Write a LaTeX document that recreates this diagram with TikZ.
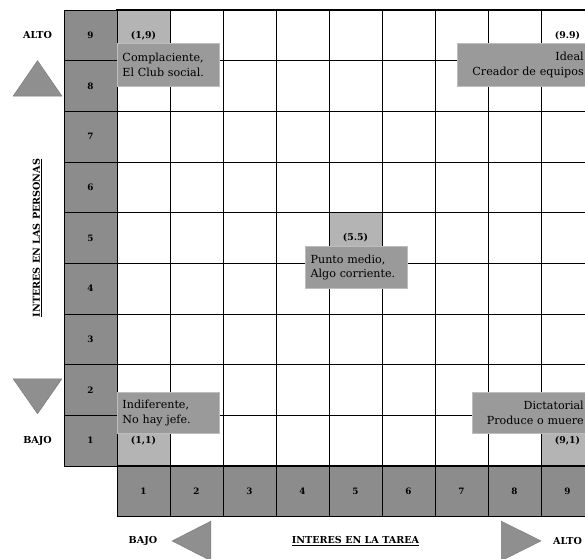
\documentclass[tikz,border=0pt]{standalone}
\usepackage{fontspec}
\setmainfont{DejaVu Serif}
\definecolor{axgray}{HTML}{8C8C8C}
\definecolor{higray}{HTML}{B4B4B4}
\definecolor{boxgray}{HTML}{9A9A9A}
\definecolor{boxedge}{HTML}{BDBDBD}
\definecolor{trigray}{HTML}{8F8F8F}
\begin{document}
\begin{tikzpicture}[
  x=1.59cm, y=1.52cm,
  axcell/.style={draw=black, fill=axgray, line width=0.6pt, minimum width=1.59cm, minimum height=1.52cm, inner sep=0pt, font=\bfseries\fontsize{7.5}{9}\selectfont},
  gridline/.style={line width=0.6pt, draw=black},
  tagbox/.style={fill=boxgray, draw=boxedge, line width=0.8pt, inner xsep=0.15cm, inner ysep=0pt, font=\fontsize{9.5}{12.5}\selectfont},
  coord/.style={font=\bfseries\fontsize{8}{9}\selectfont},
  axtitle/.style={font=\bfseries\fontsize{8.2}{9}\selectfont},
  arrowtri/.style={fill=trigray, draw=trigray!85!black, line width=0.4pt}
]
  \useasboundingbox (-2.208,-1.835) rectangle (8.83,9.197);
  \clip (-2.208,-1.835) rectangle (8.83,9.197);

  % Casillas destacadas
  \fill[higray] (0,8) rectangle (1,9);
  \fill[higray] (4,4) rectangle (5,5);
  \fill[higray] (0,0) rectangle (1,1);
  \fill[higray] (8,0) rectangle (9,1);

  % Cuadricula
  \foreach \k in {1,...,8} {
    \draw[gridline] (\k,0) -- (\k,9);
    \draw[gridline] (0,\k) -- (9,\k);
  }
  \draw[gridline, line width=1pt] (0,0) rectangle (9,9);

  % Eje vertical
  \node[axcell] (p9) at (-0.5,8.5) {9};
  \node[axcell] (p8) at (-0.5,7.5) {8};
  \node[axcell] (p7) at (-0.5,6.5) {7};
  \node[axcell] (p6) at (-0.5,5.5) {6};
  \node[axcell] (p5) at (-0.5,4.5) {5};
  \node[axcell] (p4) at (-0.5,3.5) {4};
  \node[axcell] (p3) at (-0.5,2.5) {3};
  \node[axcell] (p2) at (-0.5,1.5) {2};
  \node[axcell] (p1) at (-0.5,0.5) {1};

  % Eje horizontal
  \node[axcell] (t1) at (0.5,-0.5) {1};
  \node[axcell] (t2) at (1.5,-0.5) {2};
  \node[axcell] (t3) at (2.5,-0.5) {3};
  \node[axcell] (t4) at (3.5,-0.5) {4};
  \node[axcell] (t5) at (4.5,-0.5) {5};
  \node[axcell] (t6) at (5.5,-0.5) {6};
  \node[axcell] (t7) at (6.5,-0.5) {7};
  \node[axcell] (t8) at (7.5,-0.5) {8};
  \node[axcell] (t9) at (8.5,-0.5) {9};

  % Estilos
  \node[tagbox, anchor=north west, minimum width=3.05cm, minimum height=1.29cm, text width=2.75cm, align=left] (complac) at (0,8.35) {Complaciente,\\El Club social.};
  \node[tagbox, anchor=north east, minimum width=3.93cm, minimum height=1.29cm, text width=3.63cm, align=right] (ideal) at (8.91,8.35) {Ideal\\Creador de equipos};
  \node[tagbox, anchor=north west, minimum width=3.05cm, minimum height=1.26cm, text width=2.75cm, align=left] (medio) at (3.55,4.34) {Punto medio,\\Algo corriente.};
  \node[tagbox, anchor=north west, minimum width=3.05cm, minimum height=1.23cm, text width=2.75cm, align=left] (indif) at (0,1.46) {Indiferente,\\No hay jefe.};
  \node[tagbox, anchor=north east, minimum width=3.48cm, minimum height=1.23cm, text width=3.18cm, align=right] (dictat) at (8.91,1.46) {Dictatorial\\Produce o muere};

  % Coordenadas
  \node[coord] (c19) at (0.5,8.5) {(1,9)};
  \node[coord] (c99) at (8.5,8.5) {(9.9)};
  \node[coord] (c55) at (4.5,4.5) {(5.5)};
  \node[coord] (c11) at (0.5,0.5) {(1,1)};
  \node[coord] (c91) at (8.5,0.5) {(9,1)};

  % Titulos de los ejes
  \node[axtitle] (yalto) at (-1.5,8.5) {ALTO};
  \node[axtitle] (ybajo) at (-1.5,0.5) {BAJO};
  \node[axtitle, rotate=90] (ytit) at (-1.5,4.5) {\underline{INTERES EN LAS PERSONAS}};
  \node[axtitle] (xbajo) at (0.49,-1.48) {BAJO};
  \node[axtitle] (xalto) at (8.5,-1.48) {ALTO};
  \node[axtitle] (xtit) at (4.5,-1.48) {\underline{INTERES EN LA TAREA}};

  % Flechas
  \filldraw[arrowtri] (-1.96,7.3) -- (-1.04,7.3) -- (-1.5,8.0) -- cycle;
  \filldraw[arrowtri] (-1.96,1.72) -- (-1.04,1.72) -- (-1.5,1.03) -- cycle;
  \filldraw[arrowtri] (1.77,-1.09) -- (1.77,-1.87) -- (1.04,-1.48) -- cycle;
  \filldraw[arrowtri] (7.25,-1.09) -- (7.25,-1.87) -- (8.0,-1.48) -- cycle;
\end{tikzpicture}
\end{document}
